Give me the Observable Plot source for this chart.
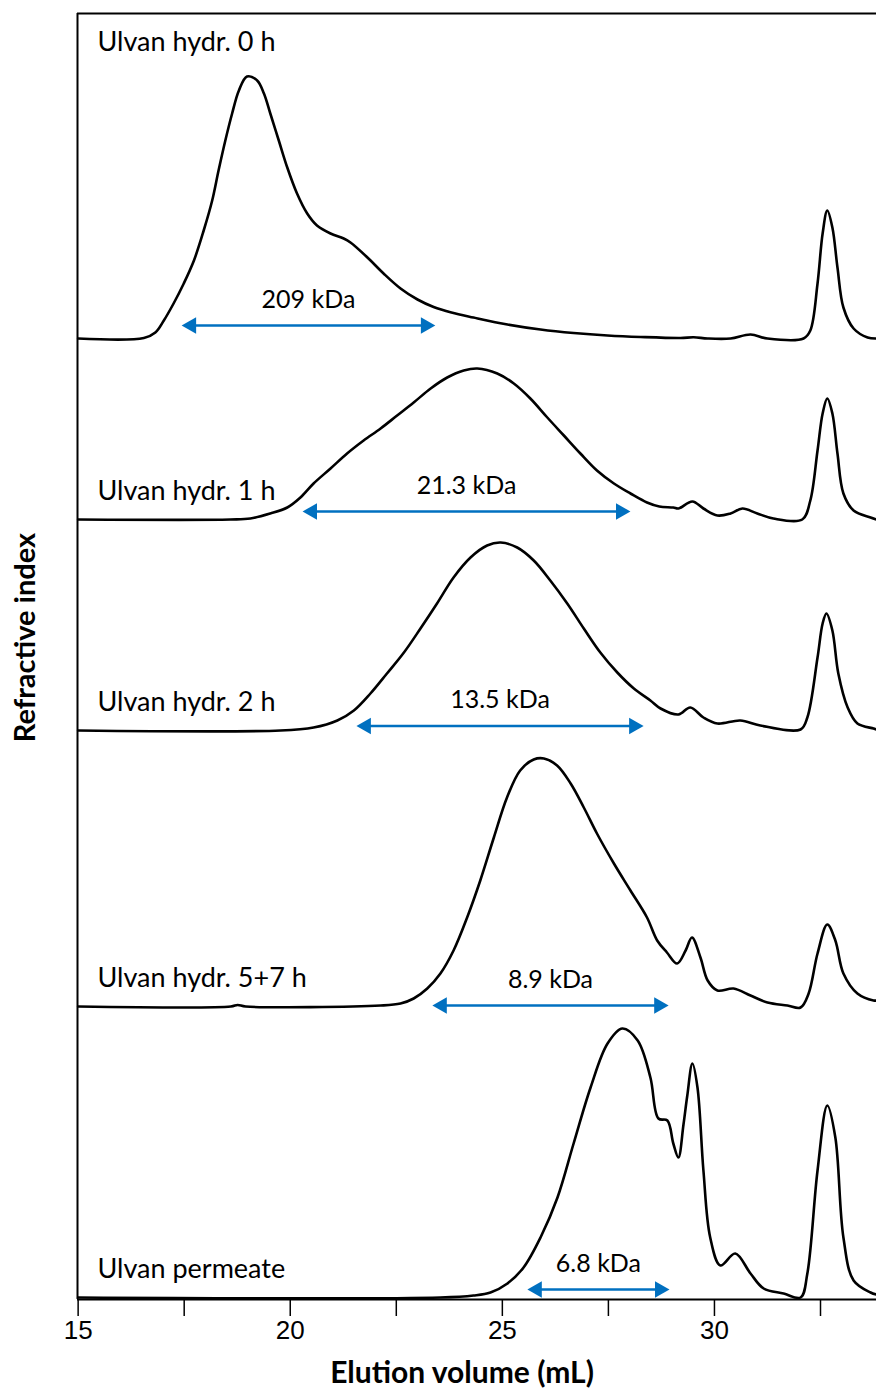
<!DOCTYPE html>
<html>
<head>
<meta charset="utf-8">
<script src="https://cdn.jsdelivr.net/npm/d3@7"></script>
<script src="https://cdn.jsdelivr.net/npm/@observablehq/plot@0.6"></script>
<style>
  html, body { margin: 0; padding: 0; background: #fff; }
</style>
</head>
<body>
<div id="chart"></div>
<script>
// Size-exclusion chromatograms of ulvan hydrolysates (RI detector, stacked traces)
const samples = ["Ulvan hydr. 0 h", "Ulvan hydr. 1 h", "Ulvan hydr. 2 h", "Ulvan hydr. 5+7 h", "Ulvan permeate"];
const molWeights = ["209 kDa", "21.3 kDa", "13.5 kDa", "8.9 kDa", "6.8 kDa"];
// elution range covered by each molecular-weight arrow (mL)
const rangeStart = [17.44, 20.29, 21.56, 23.35, 25.59];
const rangeEnd   = [23.42, 28.02, 28.33, 28.92, 28.94];
// vertical shift applied to each trace in the stack (signal units)
const offsets = [96.1, 78.0, 56.9, 29.3, 0.2];

const xTicks = [15, 17.5, 20, 22.5, 25, 27.5, 30, 32.5];

// Ulvan hydr. 0 h
const vol0 = [15, 16.55, 16.82, 17.02, 17.25, 17.49, 17.73, 17.96, 18.16, 18.31, 18.47, 18.63, 18.79, 18.98, 19.22, 19.38, 19.53, 19.73, 19.93, 20.16, 20.40, 20.63, 20.95, 21.26, 21.42, 21.82, 22.20, 22.60, 23.00, 23.38, 23.80, 24.32, 25.12, 25.90, 26.68, 27.48, 28.26, 29.20, 29.51, 29.84, 30.38, 30.85, 31.25, 32.10, 32.26, 32.43, 32.55, 32.66, 32.78, 32.90, 33.04, 33.28, 33.61, 33.82];
const ri0  = [0, 0.05, 0.6, 1.8, 3.5, 5.5, 7.8, 10.8, 13.8, 16.8, 19.8, 22.5, 24.8, 26.2, 25.8, 24.5, 22.5, 19.8, 17.1, 14.5, 12.5, 11.3, 10.5, 10.0, 9.6, 8.1, 6.5, 5.0, 3.9, 3.15, 2.6, 2.1, 1.4, 0.9, 0.55, 0.3, 0.15, 0.05, 0.12, 0, 0, 0.4, 0, 0, 0.8, 5.5, 10.5, 12.8, 11.1, 7.1, 3.1, 1.0, 0.1, 0];

// Ulvan hydr. 1 h
const vol1 = [15, 18.59, 19.06, 19.53, 19.93, 20.24, 20.55, 20.95, 21.34, 21.73, 22.13, 22.52, 22.91, 23.31, 23.70, 24.09, 24.41, 24.88, 25.27, 25.66, 26.06, 26.45, 26.84, 27.23, 27.63, 28.02, 28.41, 28.70, 29.03, 29.15, 29.48, 29.74, 30.07, 30.38, 30.66, 31.01, 31.39, 32.07, 32.26, 32.43, 32.55, 32.66, 32.78, 32.90, 33.04, 33.28, 33.68, 33.82];
const ri1  = [0, 0, 0.1, 0.6, 1.2, 2.2, 3.6, 5.1, 6.6, 7.9, 9.1, 10.4, 11.7, 13.1, 14.2, 14.9, 15.1, 14.6, 13.6, 12.1, 10.2, 8.4, 6.6, 4.9, 3.6, 2.6, 1.7, 1.3, 1.2, 1.1, 1.8, 1.1, 0.4, 0.6, 1.1, 0.6, 0.1, 0, 1.9, 6.9, 10.6, 12.1, 10.6, 6.6, 2.6, 0.9, 0.2, 0];

// Ulvan hydr. 2 h
const vol2 = [15, 19.77, 20.55, 21.11, 21.50, 21.89, 22.28, 22.68, 23.07, 23.46, 23.85, 24.25, 24.64, 24.96, 25.35, 25.74, 26.13, 26.53, 26.92, 27.31, 27.71, 28.10, 28.49, 28.73, 29.15, 29.43, 29.74, 30.07, 30.61, 31.08, 32.03, 32.19, 32.43, 32.55, 32.64, 32.78, 32.92, 33.14, 33.37, 33.75, 33.82];
const ri2  = [0, 0, 0.3, 1.0, 2.0, 3.7, 5.7, 7.8, 10.2, 12.7, 15.3, 17.3, 18.5, 18.8, 18.3, 17.0, 15.0, 12.7, 10.2, 7.8, 5.8, 4.2, 3.0, 2.2, 1.6, 2.3, 1.3, 0.7, 1.0, 0.5, 0.1, 1.3, 7.3, 10.7, 11.7, 10.0, 5.7, 2.3, 0.7, 0.2, 0.1];

// Ulvan hydr. 5+7 h
const vol3 = [15, 18.6, 18.76, 18.95, 22.13, 22.60, 22.91, 23.23, 23.54, 23.85, 24.17, 24.48, 24.80, 25.11, 25.42, 25.74, 25.98, 26.29, 26.61, 26.92, 27.23, 27.63, 28.02, 28.41, 28.65, 28.88, 29.12, 29.32, 29.47, 29.67, 29.84, 30.07, 30.45, 30.85, 31.25, 31.72, 32.03, 32.22, 32.43, 32.66, 32.85, 33.04, 33.37, 33.75, 33.82];
const ri3  = [0, 0, 0.15, 0, 0.1, 0.3, 0.8, 1.8, 3.3, 5.6, 8.9, 12.6, 16.9, 20.9, 23.6, 24.7, 24.8, 24.1, 22.3, 19.9, 17.3, 14.3, 11.6, 8.9, 6.6, 5.4, 4.3, 5.6, 6.9, 4.9, 2.6, 1.6, 1.8, 1.1, 0.4, 0.1, -0.1, 1.3, 5.3, 8.2, 6.6, 3.3, 1.3, 0.6, 0.6];

// Ulvan permeate
const vol4 = [15, 23.54, 24.32, 24.72, 25.12, 25.50, 25.90, 26.30, 26.68, 27.08, 27.48, 27.83, 28.19, 28.49, 28.68, 28.89, 29.03, 29.15, 29.27, 29.36, 29.48, 29.60, 29.74, 29.90, 30.14, 30.49, 30.85, 31.16, 31.63, 32.03, 32.19, 32.43, 32.66, 32.85, 33.04, 33.28, 33.68, 33.82];
const ri4  = [0, 0, 0.2, 0.5, 1.4, 3.0, 6.0, 10.0, 15.4, 21.0, 25.4, 26.9, 25.7, 22.0, 17.9, 17.7, 15.4, 14.0, 17.3, 20.2, 23.4, 21.0, 12.7, 6.0, 3.2, 4.4, 2.4, 0.9, 0.4, 0, 2.4, 12.7, 19.2, 16.0, 6.0, 1.7, 0.5, 0.3];

const volumes = [vol0, vol1, vol2, vol3, vol4];
const signals = [ri0, ri1, ri2, ri3, ri4];

// long-format table of all traces, each lifted by its stack offset
const traces = samples.flatMap((name, i) =>
  volumes[i].map((v, j) => ({sample: name, volume: v, ri: offsets[i] + signals[i][j]}))
);

const xDomain = [14.985, 33.82];
const yTop = 128.6;
const blue = "#0070C0";
const textFont = "Lato, 'Open Sans', sans-serif";
const tickFont = "'Liberation Sans', Arial, sans-serif";

// height of each arrow above its trace baseline
const arrowRise = [1.3, 0.8, 0.45, 0.1, 0.8];
const arrows = molWeights.map((label, i) => ({
  label,
  start: rangeStart[i],
  end: rangeEnd[i],
  mid: (rangeStart[i] + rangeEnd[i]) / 2,
  y: offsets[i] + arrowRise[i]
}));

const sampleLabels = samples.map((name, i) => ({
  name,
  y: i === 0 ? yTop - 2.85 : offsets[i] + 2.85
}));

// tip of a d3 triangle symbol sits 2*sqrt(size/(3*sqrt3)) from its centroid
const headR = 6.2;
const headTip = 2 * Math.sqrt((Math.PI * headR * headR) / (3 * Math.sqrt(3)));

const chart = Plot.plot({
  width: 876,
  height: 1389,
  marginLeft: 77,
  marginRight: 0,
  marginTop: 13,
  marginBottom: 90,
  style: {fontFamily: tickFont, fontSize: "26px", color: "black", background: "white"},
  x: {domain: xDomain},
  y: {domain: [0, yTop], axis: null},
  marks: [
    // plot frame: left, top and bottom edges
    Plot.ruleX([xDomain[0]], {stroke: "black", strokeWidth: 2}),
    Plot.ruleY([yTop], {stroke: "black", strokeWidth: 2}),
    Plot.ruleY([0], {stroke: "black", strokeWidth: 2}),
    Plot.axisX({
      ticks: xTicks,
      tickSize: 17,
      tickPadding: 4,
      tickFormat: d => (d % 5 === 0 ? String(d) : ""),
      strokeWidth: 1.5,
      fontSize: 26,
      fontFamily: tickFont,
      fill: "black",
      label: null
    }),
    // chromatograms
    Plot.line(traces, {
      x: "volume", y: "ri", z: "sample",
      stroke: "black", strokeWidth: 2.6, curve: "catmull-rom"
    }),
    // molecular-weight range arrows
    Plot.ruleY(arrows, {x1: "start", x2: "end", y: "y", stroke: blue, strokeWidth: 2.6, insetLeft: 4, insetRight: 4}),
    Plot.dot(arrows, {x: "end", y: "y", symbol: "triangle", r: headR, rotate: 90, fill: blue, stroke: "none", dx: -headTip}),
    Plot.dot(arrows, {x: "start", y: "y", symbol: "triangle", r: headR, rotate: -90, fill: blue, stroke: "none", dx: headTip}),
    Plot.text(arrows, {
      x: "mid", y: d => d.y + 2.6, text: "label",
      fontFamily: textFont, fontSize: 25, fill: "black"
    }),
    // sample names
    Plot.text(sampleLabels, {
      x: 15.455, y: "y", text: "name", textAnchor: "start",
      fontFamily: textFont, fontSize: 27, fill: "black"
    }),
    // axis titles
    Plot.text(["Elution volume (mL)"], {
      text: d => d, frameAnchor: "bottom", textAnchor: "middle", lineAnchor: "middle", dy: 74, dx: -15,
      fontFamily: textFont, fontSize: 30, fontWeight: "bold", fill: "black"
    }),
    Plot.text(["Refractive index"], {
      text: d => d, frameAnchor: "left", textAnchor: "middle", lineAnchor: "middle", dx: -52, dy: -19, rotate: -90,
      fontFamily: textFont, fontSize: 29, fontWeight: "bold", fill: "black"
    })
  ]
});

document.getElementById("chart").append(chart);
</script>
</body>
</html>
